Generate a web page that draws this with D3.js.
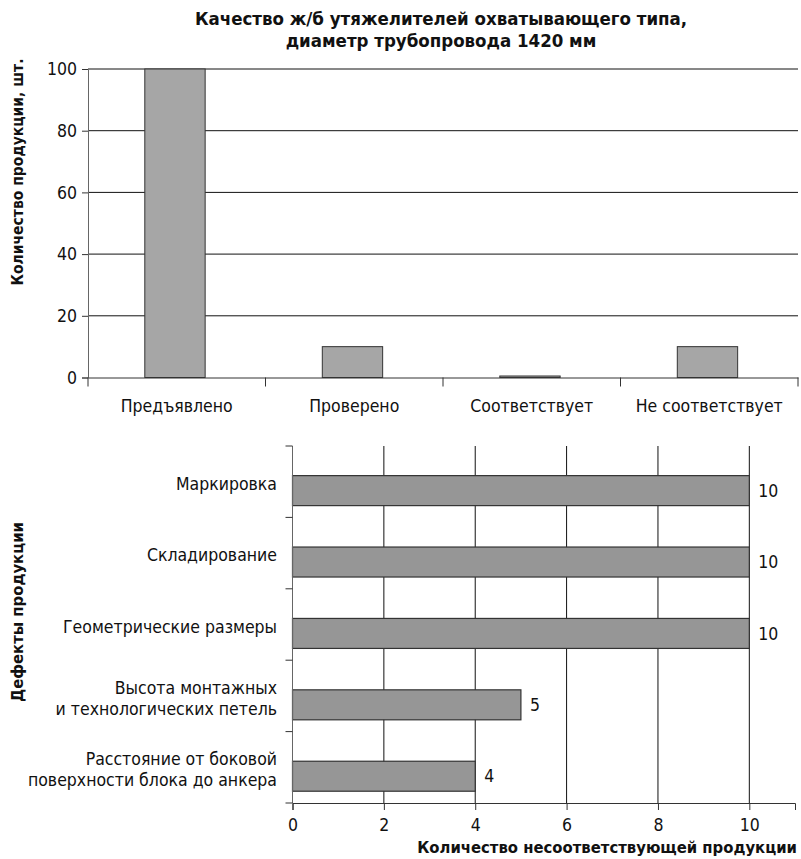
<!DOCTYPE html>
<html><head><meta charset="utf-8">
<script src="https://cdn.jsdelivr.net/npm/d3@7"></script>
<style>
body{margin:0;background:#fff;}
text{font-family:"DejaVu Sans Condensed","Liberation Sans Narrow",sans-serif;fill:#111;}
</style></head>
<body><svg id="c" width="801" height="859"></svg>
<script>
const titleLines = ["Качество ж/б утяжелителей охватывающего типа,", "диаметр трубопровода 1420 мм"];
const topCategories = ["Предъявлено", "Проверено", "Соответствует", "Не соответствует"];
const topValues = [100, 10, 0, 10];
const topYTicks = [0, 20, 40, 60, 80, 100];
const topYLabel = "Количество продукции, шт.";

const defectCategories = [["Маркировка"], ["Складирование"], ["Геометрические размеры"], ["Высота монтажных", "и технологических петель"], ["Расстояние от боковой", "поверхности блока до анкера"]];
const defectValues = [10, 10, 10, 5, 4];
const defectXTicks = [0, 2, 4, 6, 8, 10];
const defectXLabel = "Количество несоответствующей продукции";
const defectYLabel = "Дефекты продукции";

const svg = d3.select("#c");
const FS = 17.5;

// Title
svg.append("text").attr("x", 441).attr("y", 25).attr("text-anchor", "middle")
  .attr("font-size", 18.5).attr("font-weight", "bold")
  .selectAll("tspan").data(titleLines).join("tspan")
  .attr("x", 441).attr("dy", (d, i) => i ? 22 : 0).text(d => d);

// ---------- Top chart ----------
const tx = d3.scaleBand().domain(topCategories).range([88, 798]).padding(0);
const ty = d3.scaleLinear().domain([0, 100]).range([377.5, 69]);
const gTop = svg.append("g");

gTop.selectAll("line.grid").data(topYTicks.filter(d => d > 0)).join("line")
  .attr("class", "grid")
  .attr("x1", 88).attr("x2", 798).attr("y1", d => ty(d)).attr("y2", d => ty(d))
  .attr("stroke", "#111").attr("stroke-width", 1);

const txAxis = gTop.append("g").attr("transform", `translate(0,${ty(0)})`)
  .call(d3.axisBottom(tx).tickSize(0).tickPadding(22));
txAxis.select(".domain").attr("stroke", "#333");
txAxis.selectAll("text").attr("font-size", FS).attr("font-family", null);

gTop.selectAll("rect").data(topCategories).join("rect")
  .attr("x", d => tx(d) + tx.bandwidth() * 0.32)
  .attr("width", tx.bandwidth() * 0.34)
  .attr("y", (d, i) => Math.min(ty(topValues[i]), ty(0) - 1.5))
  .attr("height", (d, i) => Math.max(1.5, ty(0) - ty(topValues[i])))
  .attr("fill", "#a6a6a6").attr("stroke", "#333").attr("stroke-width", 1);

const tyAxis = gTop.append("g").attr("transform", "translate(88,0)")
  .call(d3.axisLeft(ty).tickValues(topYTicks).tickSize(6).tickPadding(5));
tyAxis.select(".domain").attr("stroke", "#666");
tyAxis.selectAll(".tick line").attr("stroke", "#333");
tyAxis.selectAll("text").attr("font-size", FS).attr("font-family", null);

gTop.selectAll("line.sep").data(topCategories.concat(["end"])).join("line")
  .attr("class", "sep")
  .attr("x1", (d, i) => i < topCategories.length ? tx(d) : tx.range()[1])
  .attr("x2", (d, i) => i < topCategories.length ? tx(d) : tx.range()[1])
  .attr("y1", ty(0)).attr("y2", ty(0) + 9).attr("stroke", "#333");

svg.append("text").attr("transform", "translate(23,172) rotate(-90)")
  .attr("text-anchor", "middle").attr("font-size", 15.5).attr("font-weight", "bold").text(topYLabel);

// ---------- Bottom chart ----------
const bx = d3.scaleLinear().domain([0, 11]).range([292.5, 795]);
const by = d3.scaleBand().domain(d3.range(defectCategories.length)).range([446, 803]).padding(0);
const gBot = svg.append("g");

gBot.selectAll("line.grid").data(defectXTicks.filter(d => d > 0)).join("line")
  .attr("class", "grid")
  .attr("x1", d => bx(d)).attr("x2", d => bx(d)).attr("y1", 446).attr("y2", 803)
  .attr("stroke", "#111");

gBot.selectAll("rect").data(defectValues).join("rect")
  .attr("x", bx(0))
  .attr("y", (d, i) => by(i) + by.bandwidth() * 0.415)
  .attr("height", by.bandwidth() * 0.42)
  .attr("width", d => bx(d) - bx(0))
  .attr("fill", "#969696").attr("stroke", "#333").attr("stroke-width", 1.2);

gBot.selectAll("text.val").data(defectValues).join("text")
  .attr("class", "val")
  .attr("x", d => bx(d) + 9)
  .attr("y", (d, i) => by(i) + by.bandwidth() * 0.625)
  .attr("dy", "0.35em").attr("font-size", FS).text(d => d);

gBot.append("line").attr("x1", bx(0)).attr("x2", bx(0)).attr("y1", 446).attr("y2", 803).attr("stroke", "#666");
gBot.selectAll("line.ytick").data(d3.range(defectCategories.length + 1)).join("line")
  .attr("class", "ytick")
  .attr("x1", bx(0) - 7).attr("x2", bx(0))
  .attr("y1", i => i < defectCategories.length ? by(i) : by.range()[1])
  .attr("y2", i => i < defectCategories.length ? by(i) : by.range()[1])
  .attr("stroke", "#333");

defectCategories.forEach((lines, i) => {
  const cy = by(i) + by.bandwidth() / 2;
  const t = gBot.append("text").attr("text-anchor", "end").attr("font-size", FS);
  lines.forEach((l, j) => {
    t.append("tspan").attr("x", 277)
      .attr("y", cy + 2 + (j - (lines.length - 1) / 2) * 21).attr("dy", "0.35em").text(l);
  });
});

const bxAxis = gBot.append("g").attr("transform", "translate(0,803)")
  .call(d3.axisBottom(bx).tickValues(defectXTicks).tickSize(7).tickPadding(9));
bxAxis.select(".domain").attr("stroke", "#333");
bxAxis.selectAll(".tick line").attr("stroke", "#333");
bxAxis.selectAll("text").attr("font-size", FS).attr("font-family", null);

svg.append("text").attr("x", 797).attr("y", 853).attr("text-anchor", "end")
  .attr("font-size", 16.5).attr("font-weight", "bold").text(defectXLabel);
svg.append("text").attr("transform", "translate(23,612) rotate(-90)")
  .attr("text-anchor", "middle").attr("font-size", 16.5).attr("font-weight", "bold").text(defectYLabel);
</script></body></html>
